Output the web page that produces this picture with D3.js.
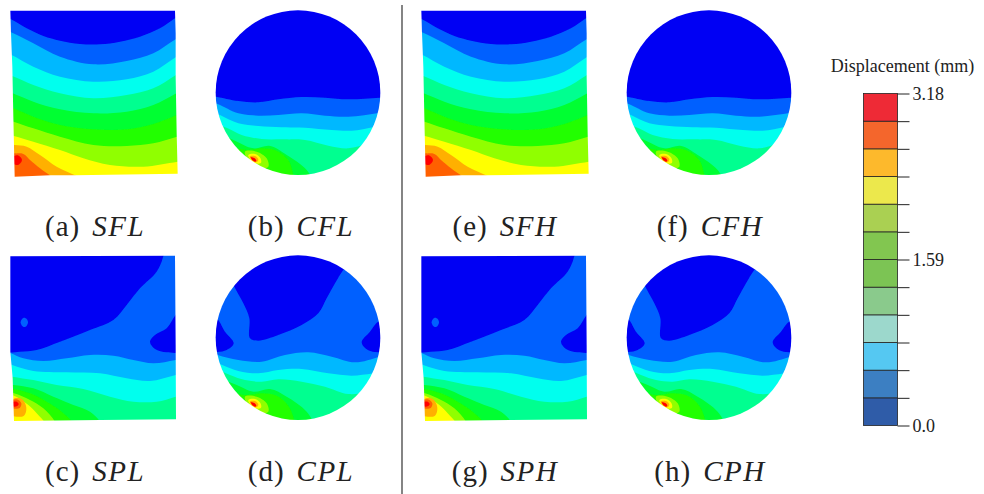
<!DOCTYPE html>
<html>
<head>
<meta charset="utf-8">
<script src="https://cdn.jsdelivr.net/npm/d3@7"></script>
<style>
  html, body { margin: 0; background: #fff; }
  text { font-family: "Liberation Serif", serif; fill: #222; }
</style>
</head>
<body>
<svg id="chart"></svg>
<script>
// Field colours, one per displacement level
const levelColors = ["#0000f4", "#0060ff", "#00b8ff", "#00ffee", "#00ff90", "#00ff30",
  "#20ff00", "#90ff00", "#ffff00", "#ffb000", "#ff6000", "#ff0000"];

// Legend
const legendColors = ["#2f5ca8", "#3c7fc2", "#55c8f2", "#9cd8cc", "#8aca8c", "#7cc454",
  "#82c650", "#aad052", "#ece84c", "#fdb92c", "#f4662c", "#ee2a36"];
const legendLevels = [0, 0.265, 0.53, 0.795, 1.06, 1.325, 1.59, 1.855, 2.12, 2.385, 2.65, 2.915, 3.18];
const legendLabels = [[0, "0.0"], [1.59, "1.59"], [3.18, "3.18"]];

// Outlines, in model units (600 units across a panel cell)
const squareFlatOutline = [[31, 32], [33, 100], [37, 200], [40, 350], [44, 530], [150, 526], [225, 526], [533, 521], [530, 400], [527, 230], [527, 100], [525, 32]];
const squarePointOutline = [[31, 34], [31, 320], [38, 400], [42, 528], [300, 525], [528, 523], [527, 300], [525, 32]];
const disc = { cx: 279, cy: 278, r: 247 };

// Contour lines: each one is the lower edge of a level, everything below it is filled
const sfLevels = [1, 2, 3, 4, 5, 6, 7, 8, 9, 10];
const sfLines = [
  [[0, 45], [33, 58], [80, 85], [130, 108], [180, 122], [240, 132], [300, 133], [360, 125], [420, 110], [480, 85], [525, 55], [600, 10]],
  [[0, 85], [33, 97], [100, 130], [180, 170], [280, 193], [380, 183], [460, 160], [527, 118], [600, 80]],
  [[0, 150], [35, 165], [100, 200], [180, 230], [280, 245], [380, 238], [460, 215], [527, 172], [600, 130]],
  [[0, 215], [37, 228], [100, 255], [180, 280], [280, 295], [380, 285], [460, 265], [528, 225], [600, 180]],
  [[0, 265], [38, 280], [100, 305], [180, 328], [280, 340], [380, 335], [460, 315], [529, 280], [600, 240]],
  [[0, 310], [40, 325], [100, 350], [180, 375], [280, 388], [380, 388], [460, 372], [530, 345], [600, 315]],
  [[0, 350], [41, 365], [100, 385], [180, 410], [280, 435], [380, 438], [460, 430], [531, 410], [600, 395]],
  [[0, 395], [42, 408], [100, 425], [180, 450], [250, 475], [330, 495], [430, 500], [533, 485], [600, 475]],
  [[0, 433], [44, 435], [80, 440], [120, 465], [170, 500], [228, 527], [260, 545]],
  [[0, 458], [44, 460], [70, 462], [90, 480], [120, 505], [155, 530], [180, 550]]
];
const sfBlobLevels = [11];
const sfBlobs = [[[42, 468], [56, 467], [66, 480], [56, 494], [42, 493], [30, 480]]];

const cfLevels = [1, 2, 3, 4, 5, 6];
const cfLines = [
  [[0, 285], [33, 290], [100, 303], [160, 307], [220, 298], [290, 291], [360, 293], [430, 298], [525, 293], [600, 285]],
  [[0, 300], [38, 312], [100, 340], [160, 347], [220, 345], [290, 340], [360, 347], [430, 350], [525, 338], [600, 325]],
  [[0, 325], [45, 345], [100, 370], [160, 378], [230, 382], [300, 383], [380, 390], [440, 392], [510, 380], [600, 360]],
  [[0, 360], [68, 385], [110, 405], [170, 417], [240, 418], [300, 420], [370, 437], [430, 445], [490, 430], [600, 395]],
  [[0, 380], [85, 420], [145, 445], [195, 438], [245, 465], [305, 510], [340, 570]],
  [[0, 420], [125, 450], [170, 445], [215, 452], [250, 480], [265, 525], [270, 570]]
];
const cfBlobLevels = [7, 8, 9, 11];
const cfBlobs = [
  [[120, 455], [155, 455], [185, 475], [190, 500], [165, 505], [130, 482]],
  [[130, 465], [150, 462], [166, 474], [168, 488], [150, 490], [134, 476]],
  [[134, 469], [150, 468], [160, 478], [156, 486], [144, 484]],
  [[137, 472], [148, 474], [154, 482], [150, 485], [141, 479]]
];

const spLevels = [2, 3, 4, 5, 6, 7];
const spLines = [
  [[0, 310], [33, 325], [70, 340], [130, 348], [200, 340], [270, 330], [340, 332], [400, 345], [460, 355], [527, 345], [600, 330]],
  [[0, 345], [37, 360], [100, 378], [200, 382], [300, 385], [380, 400], [450, 408], [527, 390], [600, 370]],
  [[0, 385], [38, 395], [100, 405], [170, 420], [250, 432], [330, 455], [400, 470], [470, 470], [527, 455], [600, 430]],
  [[0, 415], [40, 420], [100, 430], [160, 455], [220, 480], [270, 500], [300, 530], [310, 560]],
  [[0, 428], [40, 432], [90, 445], [140, 470], [185, 500], [215, 530], [225, 560]],
  [[0, 440], [42, 445], [90, 465], [130, 490], [165, 530], [175, 560]]
];
const spBlobLevels = [0, 0, 1, 8, 9, 10, 11];
const spBlobs = [
  [[10, 10], [490, 10], [488, 40], [470, 80], [420, 130], [380, 180], [340, 225], [270, 255], [180, 290], [110, 315], [60, 320], [10, 315]],
  [[535, 205], [500, 250], [465, 270], [450, 290], [465, 312], [500, 322], [545, 318], [560, 260]],
  [[73, 218], [80, 222], [84, 232], [80, 242], [73, 246], [66, 242], [62, 232], [66, 222]],
  [[20, 450], [42, 452], [85, 480], [110, 505], [135, 540], [20, 545]],
  [[30, 470], [52, 458], [68, 464], [79, 488], [72, 512], [50, 515], [30, 510]],
  [[30, 470], [50, 463], [64, 475], [60, 488], [45, 491], [30, 485]],
  [[36, 472], [50, 470], [56, 477], [50, 484], [36, 483]]
];

const cpLevels = [2, 3, 4, 5, 6];
const cpLines = [
  [[0, 315], [38, 330], [100, 345], [170, 350], [240, 330], [310, 322], [380, 335], [450, 352], [525, 335], [600, 315]],
  [[0, 335], [52, 360], [100, 378], [160, 385], [220, 375], [290, 372], [370, 385], [440, 392], [505, 385], [600, 365]],
  [[0, 355], [75, 390], [120, 405], [170, 410], [220, 403], [290, 410], [360, 425], [430, 447], [490, 440], [600, 405]],
  [[0, 380], [95, 420], [145, 440], [195, 432], [245, 455], [305, 500], [345, 570]],
  [[0, 420], [120, 450], [170, 445], [215, 452], [250, 482], [268, 527], [272, 570]]
];
const cpBlobLevels = [0, 0, 0, 7, 8, 9, 11];
const cpBlobs = [
  [[88, 125], [60, 60], [250, 10], [450, 40], [415, 75], [390, 115], [365, 160], [340, 205], [290, 240], [220, 270], [160, 287], [135, 280], [133, 220], [115, 175]],
  [[35, 222], [60, 260], [86, 295], [65, 315], [25, 318], [15, 270]],
  [[522, 230], [495, 260], [470, 292], [490, 316], [535, 318], [545, 270]],
  [[120, 455], [155, 455], [185, 475], [190, 500], [165, 505], [130, 482]],
  [[130, 465], [150, 462], [166, 474], [168, 488], [150, 490], [134, 476]],
  [[134, 469], [150, 468], [160, 478], [156, 486], [144, 484]],
  [[137, 472], [148, 474], [154, 482], [150, 485], [141, 479]]
];

// One entry per panel
const panels = [
  { id: "a", name: "SFL", col: 0, row: 0, outline: squareFlatOutline, levels: sfLevels, lines: sfLines, blobLevels: sfBlobLevels, blobs: sfBlobs, base: 0 },
  { id: "b", name: "CFL", col: 1, row: 0, levels: cfLevels, lines: cfLines, blobLevels: cfBlobLevels, blobs: cfBlobs, base: 0 },
  { id: "c", name: "SPL", col: 0, row: 1, outline: squarePointOutline, levels: spLevels, lines: spLines, blobLevels: spBlobLevels, blobs: spBlobs, base: 1 },
  { id: "d", name: "CPL", col: 1, row: 1, levels: cpLevels, lines: cpLines, blobLevels: cpBlobLevels, blobs: cpBlobs, base: 1 },
  { id: "e", name: "SFH", col: 2, row: 0, outline: squareFlatOutline, levels: sfLevels, lines: sfLines, blobLevels: sfBlobLevels, blobs: sfBlobs, base: 0 },
  { id: "f", name: "CFH", col: 3, row: 0, levels: cfLevels, lines: cfLines, blobLevels: cfBlobLevels, blobs: cfBlobs, base: 0 },
  { id: "g", name: "SPH", col: 2, row: 1, outline: squarePointOutline, levels: spLevels, lines: spLines, blobLevels: spBlobLevels, blobs: spBlobs, base: 1 },
  { id: "h", name: "CPH", col: 3, row: 1, levels: cpLevels, lines: cpLines, blobLevels: cpBlobLevels, blobs: cpBlobs, base: 1 }
];

const width = 984;
const height = 494;
const colX = [0, 205, 411, 616];
const rowY = [0, 245];
const cell = 200;
const captionX = [95, 301, 505, 710];
const captionY = [236, 481];

const svg = d3.select("#chart")
  .attr("width", width)
  .attr("height", height)
  .style("display", "block");

svg.append("defs").append("filter")
  .attr("id", "soft")
  .append("feGaussianBlur")
  .attr("stdDeviation", 0.45);

panels.forEach(p => {
  const x = d3.scaleLinear().domain([0, 600]).range([colX[p.col], colX[p.col] + cell]);
  const y = d3.scaleLinear().domain([0, 600]).range([rowY[p.row], rowY[p.row] + cell]);

  const contour = d3.line().x(d => x(d[0])).y(d => y(d[1])).curve(d3.curveCatmullRom);
  const blob = d3.line().x(d => x(d[0])).y(d => y(d[1])).curve(d3.curveCatmullRomClosed);
  const polygon = d3.line().x(d => x(d[0])).y(d => y(d[1])).curve(d3.curveLinearClosed);

  const clip = svg.select("defs").append("clipPath").attr("id", "clip-" + p.id);
  if (p.outline) {
    clip.append("path").attr("d", polygon(p.outline));
  } else {
    clip.append("circle")
      .attr("cx", x(disc.cx))
      .attr("cy", y(disc.cy))
      .attr("r", x(disc.r) - x(0));
  }

  const g = svg.append("g")
    .attr("clip-path", `url(#clip-${p.id})`)
    .append("g")
    .attr("filter", "url(#soft)");

  g.append("rect")
    .attr("x", x(0))
    .attr("y", y(0))
    .attr("width", cell)
    .attr("height", cell)
    .attr("fill", levelColors[p.base]);

  // Each contour closes along the bottom of the cell
  g.selectAll(".band")
    .data(p.lines)
    .enter()
    .append("path")
    .attr("class", "band")
    .attr("d", d => {
      const last = d[d.length - 1];
      return contour(d) + `L${x(last[0])},${y(600)}L${x(d[0][0])},${y(600)}Z`;
    })
    .attr("fill", (d, i) => levelColors[p.levels[i]]);

  g.selectAll(".blob")
    .data(p.blobs)
    .enter()
    .append("path")
    .attr("class", "blob")
    .attr("d", blob)
    .attr("fill", (d, i) => levelColors[p.blobLevels[i]]);

  // Caption, letter in roman and name in italic
  const caption = svg.append("text")
    .attr("x", captionX[p.col])
    .attr("y", captionY[p.row])
    .attr("text-anchor", "middle")
    .style("font-size", "29px");
  caption.append("tspan").style("letter-spacing", "1px").text(`(${p.id})`);
  caption.append("tspan").attr("dx", 12).style("font-style", "italic").style("letter-spacing", "1.5px").text(p.name);
});

// Divider between the two groups of panels
svg.append("line")
  .attr("x1", 402)
  .attr("x2", 402)
  .attr("y1", 5)
  .attr("y2", 494)
  .attr("stroke", "#333")
  .attr("stroke-width", 1.2);

// Legend bar
const legendY = d3.scaleLinear().domain([0, 3.18]).range([425.5, 93.5]);
const legendX = 863.5;
const legendWidth = 34;

svg.selectAll(".swatch")
  .data(legendColors)
  .enter()
  .append("rect")
  .attr("class", "swatch")
  .attr("x", legendX)
  .attr("y", (d, i) => legendY(legendLevels[i + 1]))
  .attr("width", legendWidth)
  .attr("height", (d, i) => legendY(legendLevels[i]) - legendY(legendLevels[i + 1]))
  .attr("fill", d => d)
  .attr("stroke", "#222")
  .attr("stroke-width", 0.8);

const legendAxis = d3.axisRight(legendY)
  .tickValues(legendLevels)
  .tickSize(12)
  .tickPadding(3)
  .tickFormat(d => {
    const label = legendLabels.find(l => l[0] === d);
    return label ? label[1] : "";
  });

const axisG = svg.append("g")
  .attr("transform", `translate(${legendX + legendWidth}, 0)`)
  .call(legendAxis);
axisG.select(".domain").remove();
axisG.selectAll("line").attr("stroke", "#222");
axisG.selectAll("text")
  .style("font-family", '"Liberation Serif", serif')
  .style("font-size", "18px")
  .attr("fill", "#222");

svg.append("text")
  .attr("x", 902.5)
  .attr("y", 72)
  .attr("text-anchor", "middle")
  .style("font-size", "18px")
  .text("Displacement (mm)");
</script>
</body>
</html>
